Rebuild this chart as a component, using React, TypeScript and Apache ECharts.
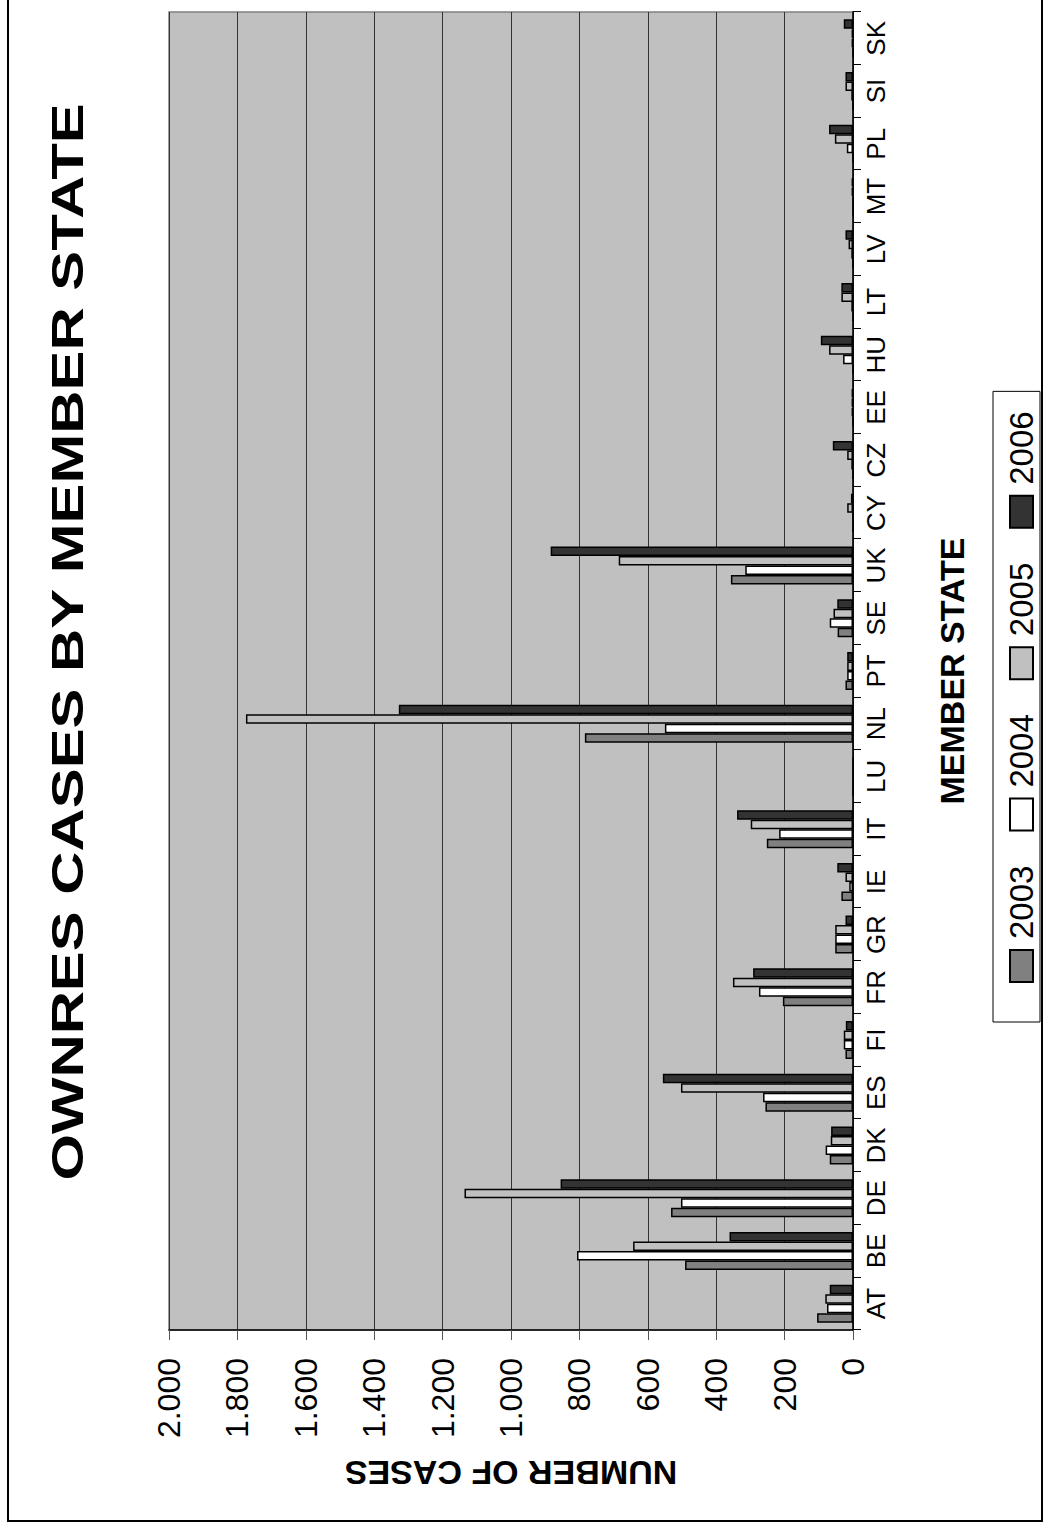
import React, { useEffect, useRef } from "react";
import * as echarts from "echarts";

const categories = ["AT", "BE", "DE", "DK", "ES", "FI", "FR", "GR", "IE", "IT", "LU", "NL", "PT", "SE", "UK", "CY", "CZ", "EE", "HU", "LT", "LV", "MT", "PL", "SI", "SK"];
const seriesNames = ["2003", "2004", "2005", "2006"];
const values2003 = [105, 491, 532, 68, 256, 22, 205, 52, 34, 252, 0, 784, 22, 45, 357, 0, 0, 0, 0, 0, 0, 0, 0, 0, 0];
const values2004 = [76, 807, 503, 80, 263, 27, 275, 52, 11, 216, 0, 550, 17, 68, 315, 0, 5, 4, 29, 5, 5, 0, 18, 5, 4];
const values2005 = [81, 643, 1136, 65, 503, 27, 351, 52, 22, 299, 0, 1775, 17, 57, 685, 17, 17, 4, 70, 34, 13, 4, 53, 22, 4];
const values2006 = [68, 361, 855, 64, 556, 21, 292, 22, 46, 339, 0, 1328, 17, 46, 884, 6, 59, 4, 94, 34, 22, 4, 70, 22, 27];
const seriesColors = ["#808080", "#ffffff", "#c0c0c0", "#333333"];
const valueMin = 0;
const valueMax = 2000;
const valueInterval = 200;

const titleText = "OWNRES CASES BY MEMBER STATE";
const xName = "MEMBER STATE";
const yName = "NUMBER OF CASES";

const FONT = "'Liberation Sans', Arial, sans-serif";

function fmt(v: number): string {
  if (v >= 1000) {
    const t = Math.floor(v / 1000);
    const r = String(v % 1000).padStart(3, "0");
    return `${t}.${r}`;
  }
  return String(v);
}

export default function App() {
  const ref = useRef<HTMLDivElement>(null);

  useEffect(() => {
    if (!ref.current) return;
    const chart = echarts.init(ref.current, undefined, { renderer: "svg" });
    const allValues = [values2003, values2004, values2005, values2006];
    chart.setOption({
      animation: false,
      backgroundColor: "#ffffff",
      textStyle: { fontFamily: FONT },
      graphic: [
        {
          type: "text",
          x: 878,
          y: 58,
          scaleX: 1.33,
          scaleY: 1,
          style: {
            text: titleText,
            fontSize: 45,
            fontWeight: "bold",
            fontFamily: FONT,
            fill: "#000000",
            align: "center",
            verticalAlign: "middle",
          },
        },
      ],
      legend: {
        data: seriesNames,
        left: 498,
        top: 984,
        orient: "horizontal",
        icon: "rect",
        itemWidth: 32,
        itemHeight: 23,
        itemGap: 34,
        padding: [12, 20, 2, 39],
        borderColor: "#000000",
        borderWidth: 1,
        textStyle: { fontSize: 33, lineHeight: 33, fontFamily: FONT, color: "#000000", padding: [0, 0, 0, 6] },
      },
      grid: {
        left: 190,
        top: 160,
        width: 1318,
        height: 684,
        show: true,
        backgroundColor: "#c0c0c0",
        borderColor: "#808080",
        borderWidth: 1.5,
      },
      xAxis: {
        type: "category",
        data: categories,
        name: xName,
        nameLocation: "middle",
        nameGap: 82,
        nameTextStyle: { fontSize: 34, fontWeight: "bold", color: "#000000", fontFamily: FONT },
        axisLine: { show: true, lineStyle: { color: "#000000", width: 1.5 } },
        axisTick: { show: true, length: 8, lineStyle: { color: "#000000", width: 1 } },
        axisLabel: { fontSize: 26, color: "#000000", margin: 10, interval: 0, fontFamily: FONT },
        splitLine: { show: false },
      },
      yAxis: {
        type: "value",
        min: valueMin,
        max: valueMax,
        interval: valueInterval,
        name: yName,
        nameLocation: "middle",
        nameRotate: 90,
        nameGap: 126,
        nameTextStyle: { fontSize: 34, fontWeight: "bold", color: "#000000", fontFamily: FONT },
        axisLine: { show: true, lineStyle: { color: "#000000", width: 1.5 } },
        axisTick: { show: true, length: 10, lineStyle: { color: "#555555", width: 1 } },
        axisLabel: { fontSize: 32, color: "#000000", margin: 28, formatter: (v: number) => fmt(v), fontFamily: FONT },
        splitLine: { show: true, lineStyle: { color: "#333333", width: 1 } },
      },
      series: seriesNames.map((name, i) => ({
        name,
        type: "bar",
        data: allValues[i],
        barWidth: 9.5,
        barGap: "0%",
        itemStyle: { color: seriesColors[i], borderColor: "#000000", borderWidth: 1.5 },
      })),
    });
    return () => chart.dispose();
  }, []);

  return (
    <div style={{ position: "fixed", left: 0, top: 0, width: 1049, height: 1530, overflow: "hidden", background: "#ffffff" }}>
      <div
        style={{
          position: "absolute",
          left: 7,
          top: 1522,
          width: 1526,
          height: 1036,
          transformOrigin: "0 0",
          transform: "rotate(-90deg)",
          border: "2px solid #000000",
          boxSizing: "border-box",
          background: "#ffffff",
        }}
      >
        <div ref={ref} style={{ width: "100%", height: "100%" }} />
      </div>
    </div>
  );
}
